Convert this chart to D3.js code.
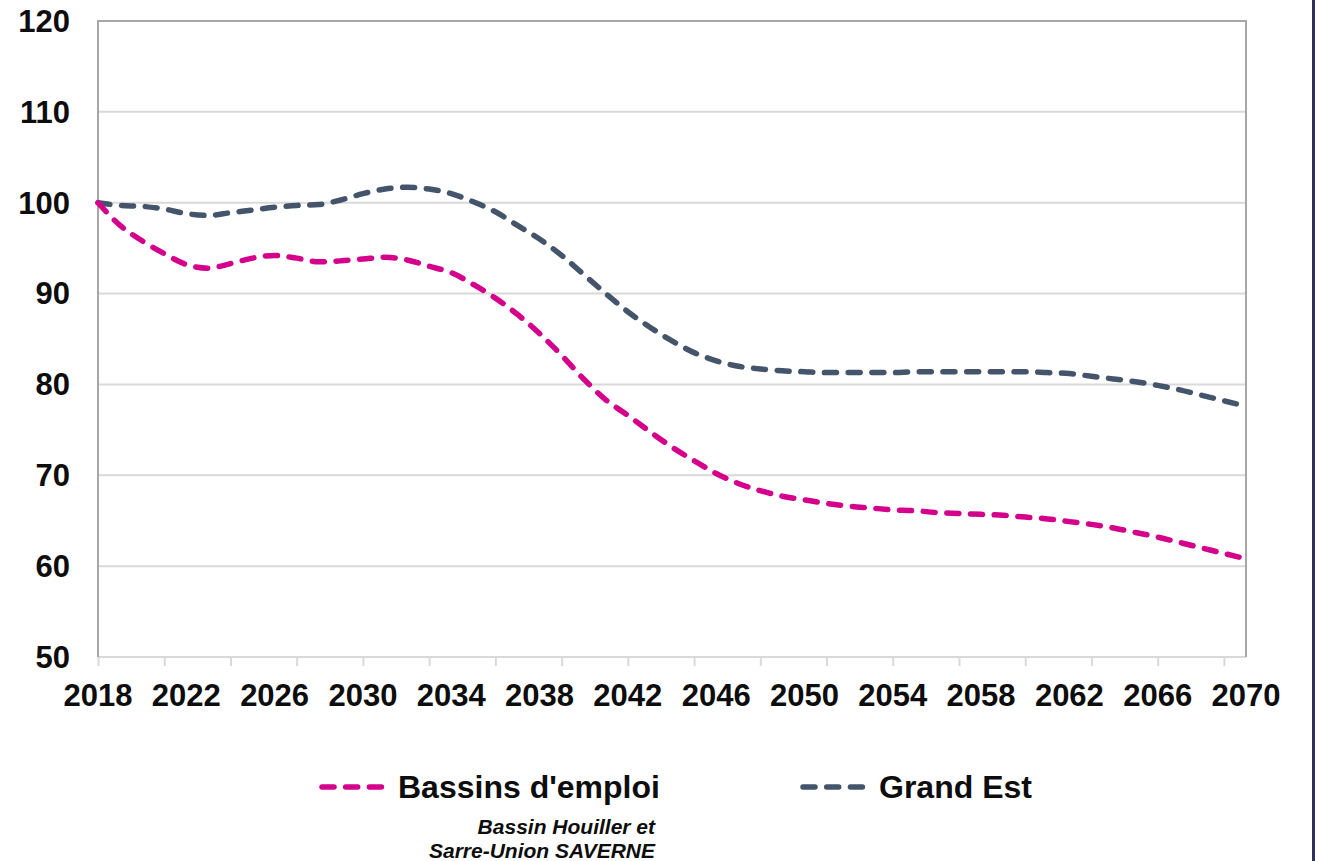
<!DOCTYPE html>
<html>
<head>
<meta charset="utf-8">
<script src="https://cdn.jsdelivr.net/npm/d3@7"></script>
<style>
  body { margin: 0; background: #fff; }
  text { font-family: "Liberation Sans", Arial, sans-serif; }
</style>
</head>
<body>
<div id="lineas"></div>
<script>
/////////// DATOS /////////
var annees = d3.range(2018, 2071);
var bassins = [100, 97.5, 95.8, 94.4, 93.2, 92.8, 93.3, 93.9, 94.2, 93.9,
  93.5, 93.6, 93.8, 94.0, 93.7, 93.0, 92.3, 91.0, 89.5, 87.7,
  85.6, 83.2, 80.6, 78.3, 76.6, 74.8, 73.1, 71.6, 70.2, 69.1,
  68.3, 67.7, 67.3, 66.9, 66.6, 66.4, 66.2, 66.1, 65.9, 65.8,
  65.7, 65.6, 65.4, 65.2, 64.9, 64.6, 64.2, 63.7, 63.2, 62.6,
  62.0, 61.4, 60.8];
var grandEst = [100, 99.7, 99.6, 99.3, 98.8, 98.6, 98.9, 99.2, 99.5, 99.7,
  99.8, 100.3, 101.0, 101.5, 101.7, 101.5, 101.0, 100.1, 99.0, 97.5,
  96.0, 94.2, 92.1, 90.0, 88.0, 86.3, 84.8, 83.5, 82.6, 82.0,
  81.7, 81.5, 81.4, 81.3, 81.3, 81.3, 81.3, 81.4, 81.4, 81.4,
  81.4, 81.4, 81.4, 81.3, 81.2, 80.9, 80.6, 80.3, 79.9, 79.4,
  78.8, 78.2, 77.6];
var yTicks = [50, 60, 70, 80, 90, 100, 110, 120];
var xLabels = d3.range(2018, 2071, 4);
var xTickMarks = d3.range(2018, 2071, 3);
var series = [
  {nom: "Bassins d'emploi", valeurs: bassins, couleur: "#d4008c"},
  {nom: "Grand Est", valeurs: grandEst, couleur: "#44546a"}
];

/////////// DISTANCIA /////////
var margin = {top: 21, right: 71, bottom: 204, left: 98},
    width = 1317 - margin.left - margin.right,
    height = 861 - margin.top - margin.bottom;

var root = d3.select("#lineas").append("svg")
    .attr("width", 1317)
    .attr("height", 861);

// trait vertical à droite
root.append("rect")
    .attr("x", 1312).attr("y", 0)
    .attr("width", 3).attr("height", 861)
    .attr("fill", "#2f3160");

var svg = root.append("g")
    .attr("transform", "translate(" + margin.left + "," + margin.top + ")");

/////////// ESCALAS /////////
var x = d3.scaleLinear().domain([2018, 2070]).range([0, width]);
var y = d3.scaleLinear().domain([50, 120]).range([height, 0]);

// Grid Y
svg.append("g")
    .selectAll("line")
    .data(yTicks.filter(function(d) { return d > 50 && d < 120; }))
    .enter().append("line")
    .attr("x1", 0).attr("x2", width)
    .attr("y1", function(d) { return y(d); })
    .attr("y2", function(d) { return y(d); })
    .attr("stroke", "#d9d9d9")
    .attr("stroke-width", 2);

// Eje X (línea + marcas)
var ejeX = svg.append("g")
    .attr("transform", "translate(0," + height + ")")
    .call(d3.axisBottom(x).tickValues(xTickMarks).tickSize(9).tickFormat(""));
ejeX.select(".domain").remove();
ejeX.selectAll("line").attr("stroke", "#d9d9d9").attr("stroke-width", 2);
svg.append("line")
    .attr("x1", 0).attr("x2", width)
    .attr("y1", height).attr("y2", height)
    .attr("stroke", "#d9d9d9").attr("stroke-width", 2);

// Etiquetas X
svg.append("g")
    .selectAll("text")
    .data(xLabels)
    .enter().append("text")
    .attr("x", function(d) { return x(d); })
    .attr("y", height + 38)
    .attr("dy", "0.35em")
    .attr("text-anchor", "middle")
    .attr("font-weight", "bold")
    .attr("font-size", "31px")
    .attr("fill", "#0d0d0d")
    .text(function(d) { return d; });

// Etiquetas Y
svg.append("g")
    .selectAll("text")
    .data(yTicks)
    .enter().append("text")
    .attr("x", -28)
    .attr("y", function(d) { return y(d); })
    .attr("dy", "0.35em")
    .attr("text-anchor", "end")
    .attr("font-weight", "bold")
    .attr("font-size", "31px")
    .attr("fill", "#0d0d0d")
    .text(function(d) { return d; });

// Borde (izquierda, arriba, derecha)
svg.append("path")
    .attr("d", "M0," + height + "V0H" + width + "V" + height)
    .attr("fill", "none")
    .attr("stroke", "#a6a6a6")
    .attr("stroke-width", 2);

///////// PINTAR DATOS /////////
var linea = d3.line()
    .curve(d3.curveMonotoneX)
    .x(function(d, i) { return x(annees[i]); })
    .y(function(d) { return y(d); });

series.slice().reverse().forEach(function(s) {
  svg.append("path")
      .datum(s.valeurs)
      .attr("fill", "none")
      .attr("stroke", s.couleur)
      .attr("stroke-width", 5.5)
      .attr("stroke-dasharray", "12,11.7")
      .attr("stroke-linecap", "round")
      .attr("d", linea);
});

/////////// LEYENDA /////////
var leyX = [322, 803];
series.forEach(function(s, i) {
  var g = root.append("g").attr("transform", "translate(" + leyX[i] + ",787)");
  g.append("line")
      .attr("x1", 0).attr("x2", 62)
      .attr("y1", 0).attr("y2", 0)
      .attr("stroke", s.couleur)
      .attr("stroke-width", 5.5)
      .attr("stroke-dasharray", "12,11.7")
      .attr("stroke-linecap", "round");
  g.append("text")
      .attr("x", 76)
      .attr("y", 0)
      .attr("dy", "0.35em")
      .attr("font-weight", "bold")
      .attr("font-size", "32px")
      .attr("fill", "#0d0d0d")
      .text(s.nom);
});

root.append("text")
    .attr("x", 655).attr("y", 834)
    .attr("text-anchor", "end")
    .attr("font-weight", "bold")
    .attr("font-style", "italic")
    .attr("font-size", "21px")
    .attr("fill", "#0d0d0d")
    .text("Bassin Houiller et");
root.append("text")
    .attr("x", 655).attr("y", 858)
    .attr("text-anchor", "end")
    .attr("font-weight", "bold")
    .attr("font-style", "italic")
    .attr("font-size", "21px")
    .attr("fill", "#0d0d0d")
    .text("Sarre-Union SAVERNE");
</script>
</body>
</html>
